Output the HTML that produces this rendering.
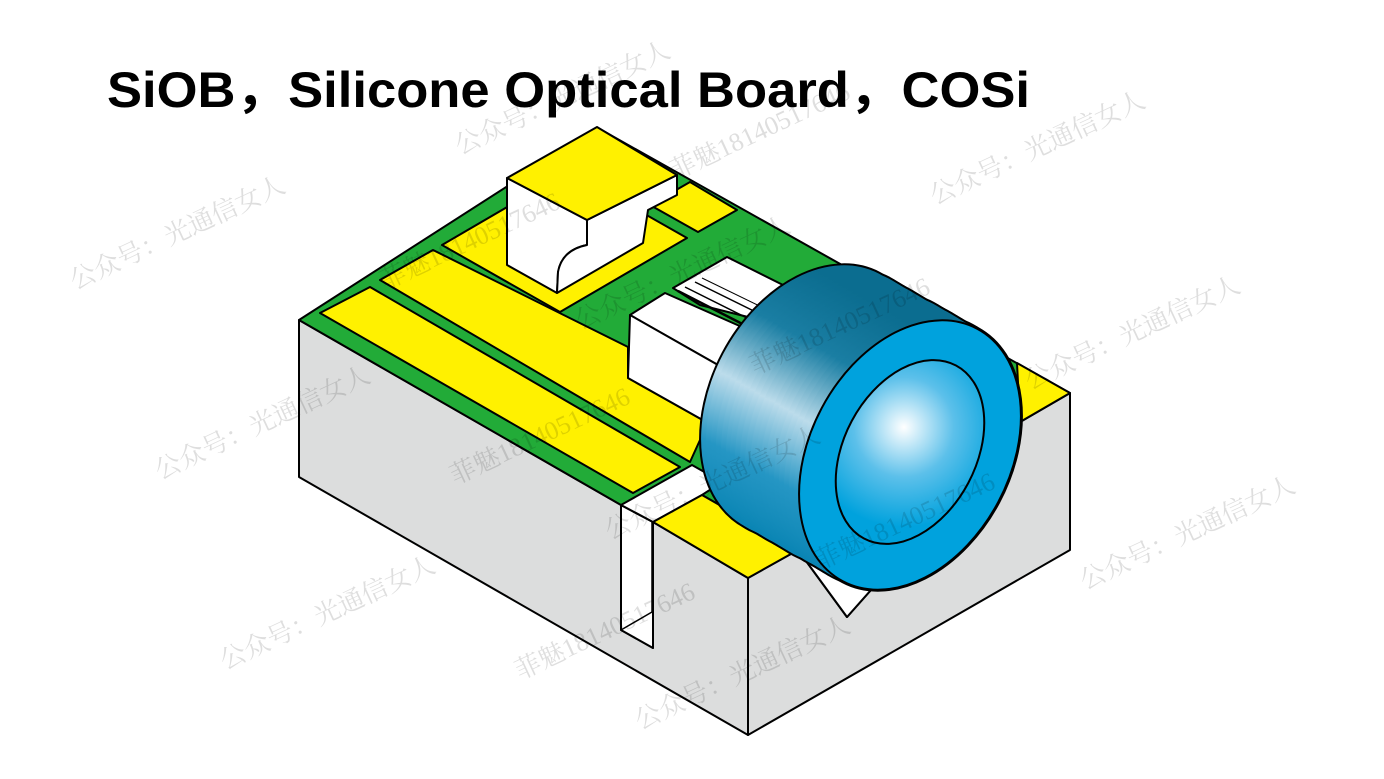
<!DOCTYPE html>
<html><head><meta charset="utf-8"><style>
html,body{margin:0;padding:0;background:#fff;}
svg{display:block}
</style></head><body>
<svg width="1384" height="779" viewBox="0 0 1384 779" xmlns="http://www.w3.org/2000/svg">
<defs>
<linearGradient id="side" x1="0.42" y1="0.05" x2="0.62" y2="0.95">
<stop offset="0" stop-color="#0b6d90"/>
<stop offset="0.2" stop-color="#1a7ea3"/>
<stop offset="0.45" stop-color="#bcdceb"/>
<stop offset="0.72" stop-color="#2596c4"/>
<stop offset="1" stop-color="#0a85b4"/>
</linearGradient>
<radialGradient id="lensg" cx="893" cy="433" r="100" gradientUnits="userSpaceOnUse">
<stop offset="0" stop-color="#ffffff"/>
<stop offset="0.5" stop-color="#5cc0ea"/>
<stop offset="1" stop-color="#00a2dd"/>
</radialGradient>
<ellipse id="e" cx="0" cy="0" rx="100" ry="143" transform="rotate(28)"/>
</defs>
<g stroke="#000" stroke-width="2" stroke-linejoin="round">
<polygon points="299,320 621,505 621,630 653,648 653,522 748,578 748,735 299,477" fill="#dcdddd"/>
<polygon points="748,578 798,550 847,617 1020,422 1070,393 1070,550 748,735" fill="#dcdddd"/>
<polygon points="621,505 653,522 653,648 621,630" fill="#fff"/>
<polyline points="621,630 652,612 652,522" fill="none" stroke-width="1.5"/>
<polygon points="299,320 598,128 1070,393 1020,422 847,617 798,550 702,495 653,522 621,505" fill="#22ab38"/>
<polygon points="621,505 692,465 722,482 702,495 653,522" fill="#fff"/>
<polygon points="798,550 1000,380 1020,422 847,617" fill="#fff"/>
<polygon points="653,522 702,495 798,550 748,578" fill="#fff100"/>
<polygon points="1017,363 1070,393 1020,422" fill="#fff100"/>
<polygon points="320,313 370,287 680,467 633,493" fill="#fff100"/>
<polygon points="380,280 433,250 628,347 628,378 708,423 712,410 700,440 690,462" fill="#fff100"/>
<polygon points="442,245 569,171 687,238 560,312" fill="#fff100"/>
<polygon points="650,205 690,182 737,210 698,232" fill="#fff100"/>
<path d="M507,178 L587,220 L587,245 Q562,250 558,272 L557,293 L507,265 Z" fill="#fff"/>
<path d="M587,220 L677,175 L677,195 L648,210 L643,243 L557,293 L558,272 Q562,250 587,245 Z" fill="#fff"/>
<polygon points="507,178 597,127 677,175 587,220" fill="#fff100"/>
<polygon points="673,288 727,257 787,287 760,320 700,305" fill="#fff"/>
<polygon points="630,315 665,293 760,335 718,365" fill="#fff"/>
<polygon points="630,315 718,365 708,423 628,378" fill="#fff"/>
<polygon points="718,365 745,350 720,425 708,423" fill="#fff"/>
<line x1="678" y1="291" x2="760" y2="333" stroke-width="2.5"/>
<line x1="685" y1="287" x2="765" y2="327" stroke-width="1.5"/>
<line x1="695" y1="282" x2="772" y2="320" stroke-width="1.5"/>
<line x1="702" y1="278" x2="776" y2="314" stroke-width="1"/>
</g>
<g fill="#000" stroke="#000" stroke-width="4">
<use href="#e" x="812" y="400"/><use href="#e" x="817" y="403"/><use href="#e" x="822" y="405"/><use href="#e" x="827" y="408"/><use href="#e" x="832" y="411"/><use href="#e" x="837" y="414"/><use href="#e" x="841" y="416"/><use href="#e" x="846" y="419"/><use href="#e" x="851" y="422"/><use href="#e" x="856" y="425"/><use href="#e" x="861" y="428"/><use href="#e" x="866" y="430"/><use href="#e" x="871" y="433"/><use href="#e" x="876" y="436"/><use href="#e" x="880" y="438"/><use href="#e" x="885" y="441"/><use href="#e" x="890" y="444"/><use href="#e" x="895" y="447"/><use href="#e" x="900" y="450"/><use href="#e" x="905" y="452"/><use href="#e" x="910" y="455"/>
</g>
<g fill="url(#side)" stroke="none">
<use href="#e" x="812" y="400"/><use href="#e" x="817" y="403"/><use href="#e" x="822" y="405"/><use href="#e" x="827" y="408"/><use href="#e" x="832" y="411"/><use href="#e" x="837" y="414"/><use href="#e" x="841" y="416"/><use href="#e" x="846" y="419"/><use href="#e" x="851" y="422"/><use href="#e" x="856" y="425"/><use href="#e" x="861" y="428"/><use href="#e" x="866" y="430"/><use href="#e" x="871" y="433"/><use href="#e" x="876" y="436"/><use href="#e" x="880" y="438"/><use href="#e" x="885" y="441"/><use href="#e" x="890" y="444"/><use href="#e" x="895" y="447"/><use href="#e" x="900" y="450"/><use href="#e" x="905" y="452"/>
</g>
<g stroke="#000" stroke-width="2">
<ellipse cx="910" cy="455" rx="100" ry="143" transform="rotate(28 910 455)" fill="#00a2dd"/>
<ellipse cx="910" cy="452" rx="66" ry="98" transform="rotate(28 910 452)" fill="url(#lensg)"/>
</g>
<g font-family="'Liberation Serif','Noto Serif CJK SC',serif" font-size="26" fill="#000" fill-opacity="0.13">
<text transform="translate(75,290) rotate(-25)">公众号：光通信女人</text>
<text transform="translate(460,155) rotate(-25)">公众号：光通信女人</text>
<text transform="translate(675,180) rotate(-25)">菲魅18140517646</text>
<text transform="translate(935,205) rotate(-25)">公众号：光通信女人</text>
<text transform="translate(385,290) rotate(-25)">菲魅18140517646</text>
<text transform="translate(580,330) rotate(-25)">公众号：光通信女人</text>
<text transform="translate(160,480) rotate(-25)">公众号：光通信女人</text>
<text transform="translate(455,485) rotate(-25)">菲魅18140517646</text>
<text transform="translate(755,375) rotate(-25)">菲魅18140517646</text>
<text transform="translate(1030,390) rotate(-25)">公众号：光通信女人</text>
<text transform="translate(610,540) rotate(-25)">公众号：光通信女人</text>
<text transform="translate(820,570) rotate(-25)">菲魅18140517646</text>
<text transform="translate(225,670) rotate(-25)">公众号：光通信女人</text>
<text transform="translate(520,680) rotate(-25)">菲魅18140517646</text>
<text transform="translate(1085,590) rotate(-25)">公众号：光通信女人</text>
<text transform="translate(640,730) rotate(-25)">公众号：光通信女人</text>
</g>
<text x="107" y="107" font-family="'Liberation Sans','Noto Sans CJK SC',sans-serif" font-weight="bold" font-size="50" textLength="923" lengthAdjust="spacingAndGlyphs" fill="#000">SiOB，Silicone Optical Board，COSi</text>
</svg>
</body></html>
